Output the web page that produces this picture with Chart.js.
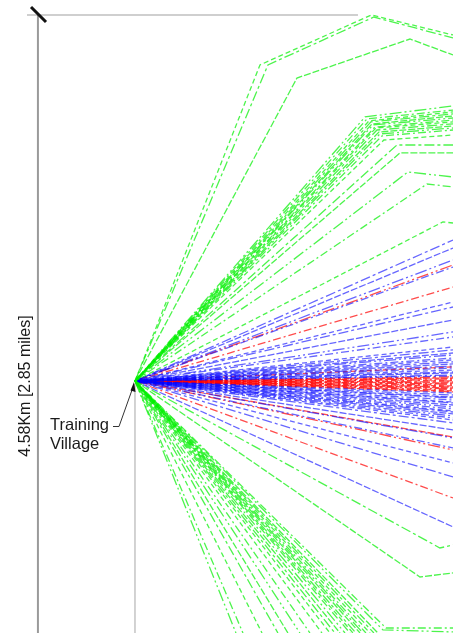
<!DOCTYPE html>
<html>
<head>
<meta charset="utf-8">
<script src="https://cdn.jsdelivr.net/npm/chart.js@4.4.0/dist/chart.umd.min.js"></script>
<style>
  body { margin: 0; background: #fff; }
  #caixa { position: relative; width: 453px; height: 633px; }
</style>
</head>
<body>
<div id="caixa"><canvas id="grafico"></canvas></div>
<script>
// all values in km, origin = Training Village
let limiteDireito = 2.356;
let limiteInferior = -1.867;

// upper outer green routes (turn points, then exit)
let verdeExternoRotas = [
  [[0.926, 2.341], [1.751, 2.711], [2.356, 2.563]],
  [[0.985, 2.341], [1.770, 2.696], [2.356, 2.541]],
  [[1.200, 2.244], [2.037, 2.533], [2.356, 2.415]]
];

// upper green bundle: turn point and exit height
let verdeCurvaX = [1.704, 1.719, 1.733, 1.748, 1.756, 1.763, 1.778, 1.785, 1.793, 1.807, 1.815, 1.830, 1.844, 1.941, 1.963, 2.022, 2.163, 2.281];
let verdeCurvaY = [1.956, 1.941, 1.926, 1.919, 1.904, 1.896, 1.881, 1.874, 1.859, 1.844, 1.830, 1.815, 1.785, 1.748, 1.689, 1.548, 1.459, 1.178];
let verdeFimY   = [2.037, 2.007, 1.993, 1.978, 1.963, 1.948, 1.933, 1.919, 1.904, 1.889, 1.874, 1.859, 1.822, 1.748, 1.689, 1.511, 1.437, 1.170];

// straight blue and red routes, exit height on the right
let azulFimY = [1.044, 0.985, 0.896, 0.844, 0.585, 0.548, 0.452, 0.363, 0.326, 0.252, 0.230, 0.207, 0.193, 0.170, 0.156, 0.141, 0.126, 0.111,
  0.096, 0.081, 0.067, 0.059, 0.044, 0.037,
  -0.089, -0.104, -0.119, -0.126, -0.141, -0.156, -0.163, -0.178, -0.193, -0.207, -0.222, -0.230, -0.244, -0.259, -0.274, -0.289,
  -0.311, -0.363, -0.422, -0.496, -0.607, -0.711, -1.081];
let vermelhoFimY = [0.859, 0.696, 0.104, 0.030, 0.022, 0.015, 0.007, 0.000, -0.007, -0.015, -0.022, -0.030, -0.037, -0.044,
  -0.052, -0.059, -0.067, -0.074, -0.081, -0.415, -0.511, -0.867];

// lower green routes that turn to the right
let verdeBaixoRotas = [
  [[2.259, -1.237], [2.356, -1.215]],
  [[2.111, -1.452], [2.356, -1.422]],
  [[1.837, -1.844], [2.356, -1.859]],
  [[1.859, -1.830], [2.356, -1.830]]
];
// lower green bundle and straight routes, exit point on the bottom
let verdeFeixeX = [1.444, 1.481, 1.519, 1.556, 1.593, 1.615, 1.637, 1.667, 1.689, 1.711, 1.741, 1.770, 1.800];
let verdeRetoX = [0.748, 0.800, 0.941, 1.059, 1.133, 1.222, 1.296, 1.385];

const tracos = [[8, 3, 2, 3], [5, 3], [10, 3, 3, 3], [7, 2], [12, 3, 2, 3, 2, 3]];
const VERDE = 'rgba(0, 240, 0, 0.7)';
const AZUL = 'rgba(0, 0, 255, 0.6)';
const VERMELHO = 'rgba(255, 0, 0, 0.7)';

let contador = 0;
function rota(pontos, cor) {
  let dados = [{ x: 0, y: 0 }];
  for (var i = 0; i < pontos.length; i++) {
    dados.push({ x: pontos[i][0], y: pontos[i][1] });
  }
  contador++;
  return {
    data: dados,
    borderColor: cor,
    borderWidth: 1.3,
    borderDash: tracos[contador % tracos.length],
    pointRadius: 0,
    showLine: true,
    fill: false,
    tension: 0
  };
}

let conjuntos = [];
for (var i = 0; i < verdeExternoRotas.length; i++) conjuntos.push(rota(verdeExternoRotas[i], VERDE));
for (var i = 0; i < verdeCurvaX.length; i++) {
  conjuntos.push(rota([[verdeCurvaX[i], verdeCurvaY[i]], [limiteDireito, verdeFimY[i]]], VERDE));
}
for (var i = 0; i < verdeBaixoRotas.length; i++) conjuntos.push(rota(verdeBaixoRotas[i], VERDE));
for (var i = 0; i < verdeFeixeX.length; i++) conjuntos.push(rota([[verdeFeixeX[i], limiteInferior]], VERDE));
for (var i = 0; i < verdeRetoX.length; i++) conjuntos.push(rota([[verdeRetoX[i], limiteInferior]], VERDE));
for (var i = 0; i < azulFimY.length; i++) conjuntos.push(rota([[limiteDireito, azulFimY[i]]], AZUL));
for (var i = 0; i < vermelhoFimY.length; i++) conjuntos.push(rota([[limiteDireito, vermelhoFimY[i]]], VERMELHO));

console.log('rotas desenhadas: ' + conjuntos.length);

// dimension line, village marker and labels
const anotacoes = {
  id: 'anotacoes',
  beforeDatasetsDraw(chart) {
    const ctx = chart.ctx;
    const sx = chart.scales.x, sy = chart.scales.y;
    ctx.save();
    ctx.lineCap = 'butt';
    // top extension line
    ctx.strokeStyle = '#cfcfcf';
    ctx.lineWidth = 2;
    ctx.beginPath();
    ctx.moveTo(sx.getPixelForValue(-0.80), sy.getPixelForValue(2.711));
    ctx.lineTo(sx.getPixelForValue(1.652), sy.getPixelForValue(2.711));
    ctx.stroke();
    // dimension line
    ctx.strokeStyle = '#9a9a9a';
    ctx.lineWidth = 2;
    ctx.beginPath();
    ctx.moveTo(sx.getPixelForValue(-0.719), sy.getPixelForValue(2.711));
    ctx.lineTo(sx.getPixelForValue(-0.719), sy.getPixelForValue(limiteInferior));
    ctx.stroke();
    // vertical line under the village
    ctx.strokeStyle = '#c4c4c4';
    ctx.lineWidth = 1.5;
    ctx.beginPath();
    ctx.moveTo(sx.getPixelForValue(0), sy.getPixelForValue(-0.02));
    ctx.lineTo(sx.getPixelForValue(0), sy.getPixelForValue(limiteInferior));
    ctx.stroke();
    // tick slash
    ctx.strokeStyle = '#111';
    ctx.lineWidth = 3;
    ctx.beginPath();
    ctx.moveTo(31, 7);
    ctx.lineTo(46, 22);
    ctx.stroke();
    ctx.restore();
  },
  afterDatasetsDraw(chart) {
    const ctx = chart.ctx;
    ctx.save();
    ctx.fillStyle = '#1a1a1a';
    ctx.font = '16px "Liberation Sans", Arial, sans-serif';
    // rotated dimension text
    ctx.save();
    ctx.translate(30, 386);
    ctx.rotate(-Math.PI / 2);
    ctx.textAlign = 'center';
    ctx.textBaseline = 'alphabetic';
    ctx.fillText('4.58Km [2.85 miles]', 0, 0);
    ctx.restore();
    // village label
    ctx.font = '16.5px "Liberation Sans", Arial, sans-serif';
    ctx.textAlign = 'left';
    ctx.fillText('Training', 50, 430);
    ctx.fillText('Village', 50, 449);
    // leader with arrow
    ctx.strokeStyle = '#333';
    ctx.lineWidth = 1;
    ctx.beginPath();
    ctx.moveTo(113, 426.5);
    ctx.lineTo(119, 426.5);
    ctx.lineTo(132, 390);
    ctx.stroke();
    ctx.beginPath();
    ctx.moveTo(134, 382);
    ctx.lineTo(135.5, 392);
    ctx.lineTo(130.5, 390.5);
    ctx.closePath();
    ctx.fillStyle = '#111';
    ctx.fill();
    ctx.restore();
  }
};

new Chart(document.getElementById('grafico'), {
  type: 'scatter',
  data: { datasets: conjuntos },
  options: {
    responsive: true,
    maintainAspectRatio: false,
    animation: false,
    layout: { padding: 0 },
    plugins: { legend: { display: false }, tooltip: { enabled: false } },
    scales: {
      x: { type: 'linear', display: false, min: -1.0, max: limiteDireito },
      y: { type: 'linear', display: false, min: limiteInferior, max: 2.822 }
    }
  },
  plugins: [anotacoes]
});
</script>
</body>
</html>
